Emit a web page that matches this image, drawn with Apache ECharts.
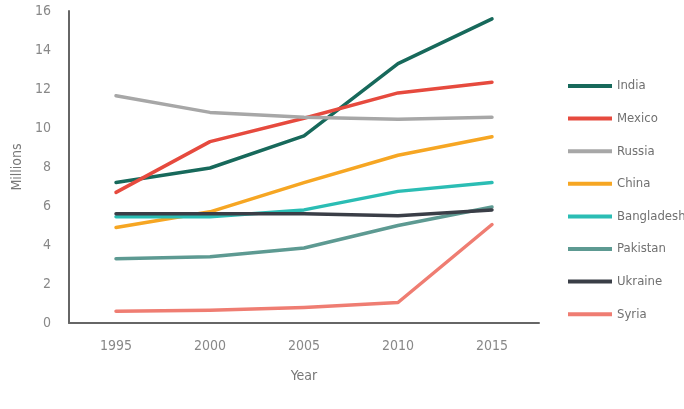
<!DOCTYPE html>
<html>
<head>
<meta charset="utf-8">
<script src="https://cdn.jsdelivr.net/npm/echarts@6/dist/echarts.min.js"></script>
<style>
  html, body { margin: 0; padding: 0; background: #fff; }
  #chart { width: 684px; height: 409px; }
</style>
</head>
<body>
<div id="chart"></div>
<script>
var years = ['1995', '2000', '2005', '2010', '2015'];
var countries = ['India', 'Mexico', 'Russia', 'China', 'Bangladesh', 'Pakistan', 'Ukraine', 'Syria'];
var india = [7.2, 7.95, 9.6, 13.3, 15.6];
var mexico = [6.7, 9.3, 10.5, 11.8, 12.35];
var russia = [11.65, 10.8, 10.55, 10.45, 10.55];
var china = [4.9, 5.7, 7.2, 8.6, 9.55];
var bangladesh = [5.45, 5.45, 5.8, 6.75, 7.2];
var pakistan = [3.3, 3.4, 3.85, 5.0, 5.95];
var ukraine = [5.6, 5.6, 5.6, 5.5, 5.8];
var syria = [0.6, 0.65, 0.8, 1.05, 5.05];
var yTicks = [0, 2, 4, 6, 8, 10, 12, 14, 16];

var values = [india, mexico, russia, china, bangladesh, pakistan, ukraine, syria];
var colors = ['#17695b', '#e64a3e', '#a7a7a7', '#f6a623', '#2bbdb4', '#5d9a92', '#3a3e47', '#ef7d72'];

(function (){
  var myEchart = echarts.init(document.getElementById('chart'));
  var font = "'DejaVu Sans Condensed', 'Liberation Sans', sans-serif";
  var option = {
    animation: false,
    color: colors,
    textStyle: { fontFamily: font },
    grid: {
      left: 69,
      right: 145,
      top: 11,
      bottom: 86
    },
    legend: {
      orient: 'vertical',
      left: 568,
      top: 79,
      padding: 0,
      icon: 'rect',
      itemWidth: 44,
      itemHeight: 4,
      itemGap: 18.6,
      data: countries,
      textStyle: {
        color: '#707070',
        fontSize: 13,
        lineHeight: 14,
        fontFamily: font
      }
    },
    xAxis: {
      type: 'category',
      data: years,
      boundaryGap: true,
      name: 'Year',
      nameLocation: 'middle',
      nameGap: 46,
      nameTextStyle: { color: '#777', fontSize: 14, fontFamily: font },
      axisTick: { show: false },
      axisLabel: { color: '#888', fontSize: 14, margin: 16, fontFamily: font },
      axisLine: { lineStyle: { color: '#666', width: 2 } }
    },
    yAxis: {
      type: 'value',
      min: yTicks[0],
      max: yTicks[yTicks.length - 1],
      interval: 2,
      name: 'Millions',
      nameLocation: 'middle',
      nameGap: 40,
      nameTextStyle: { color: '#777', fontSize: 14, fontFamily: font },
      axisTick: { show: false },
      axisLabel: { color: '#888', fontSize: 14, margin: 18, fontFamily: font },
      axisLine: { show: true, lineStyle: { color: '#666', width: 2 } },
      splitLine: { show: false }
    },
    series: countries.map(function (name, i) {
      return {
        name: name,
        type: 'line',
        data: values[i],
        showSymbol: false,
        symbol: 'none',
        lineStyle: { width: 3.5, cap: 'round', join: 'round' }
      };
    })
  };
  myEchart.setOption(option);
})();
</script>
</body>
</html>
